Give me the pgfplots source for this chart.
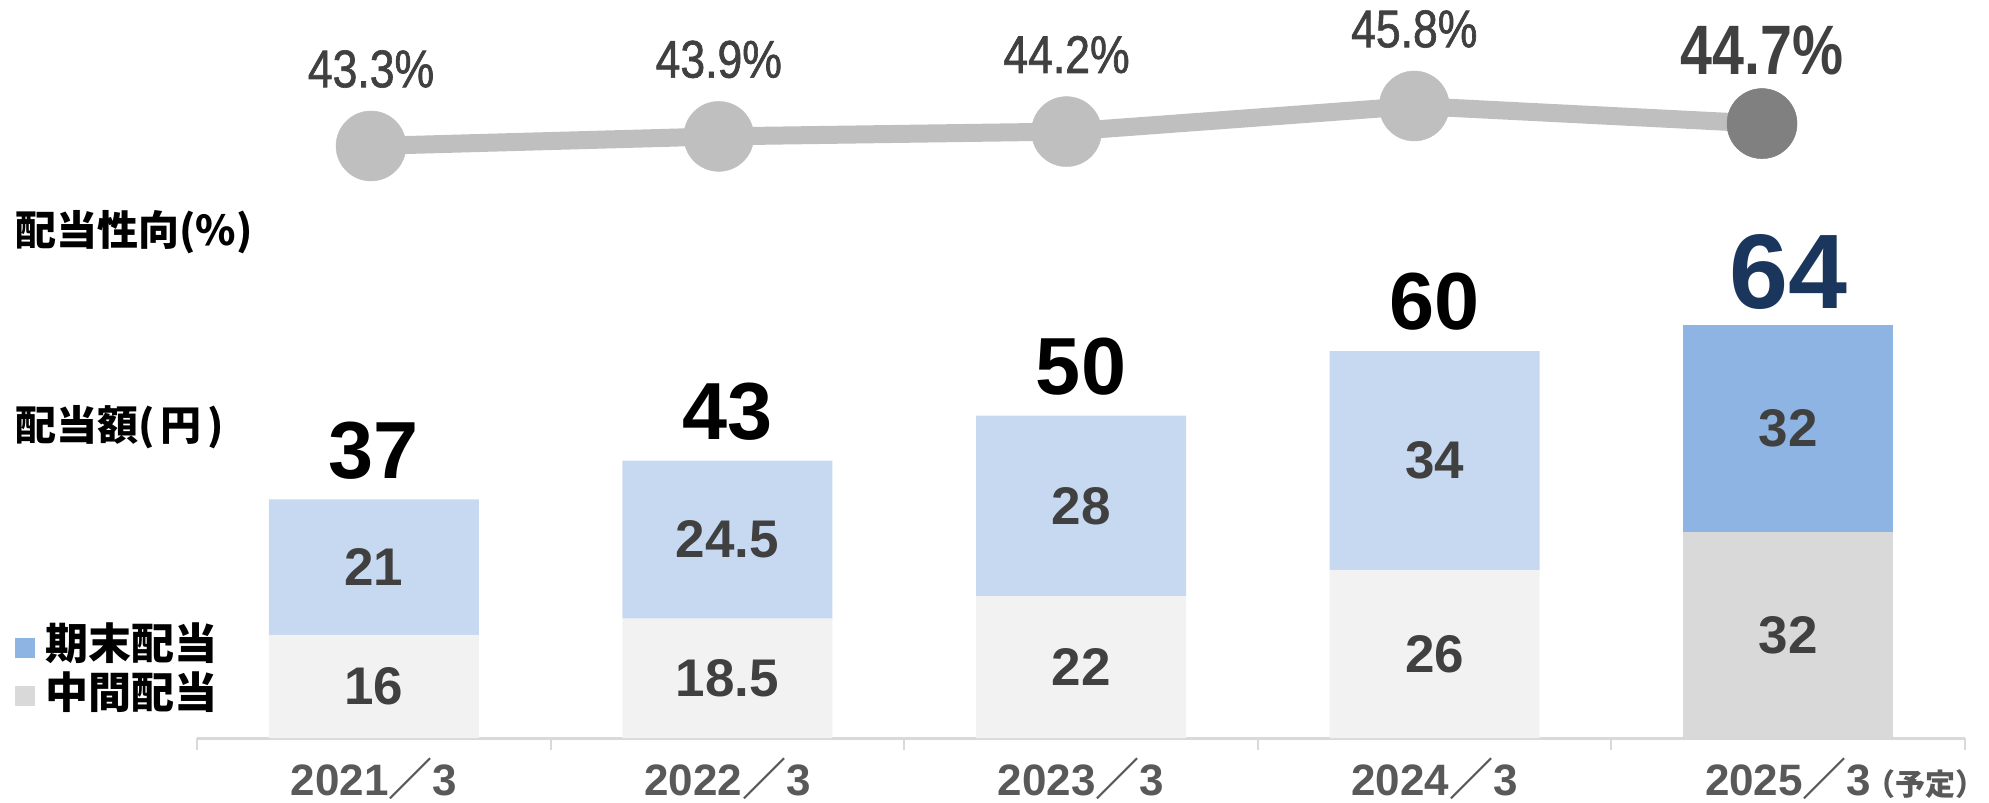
\documentclass[border=0pt]{standalone}
\usepackage{pgfplots}
\pgfplotsset{compat=1.18}
\usepackage{fontspec}
\setmainfont{Liberation Sans}
\newfontfamily\cjk{Noto Sans CJK JP}
\newfontfamily\narrow{Liberation Sans}[FakeStretch=0.84, FakeBold=1.2]
\newfontfamily\narrowb{Liberation Sans Bold}[FakeStretch=0.82]
\definecolor{kimatsu}{HTML}{C6D9F1}
\definecolor{kimatsuD}{HTML}{8EB4E3}
\definecolor{chukan}{HTML}{F2F2F2}
\definecolor{chukanD}{HTML}{D9D9D9}
\definecolor{linegray}{HTML}{BFBFBF}
\definecolor{markdark}{HTML}{808080}
\definecolor{txt}{HTML}{404040}
\definecolor{ticktxt}{HTML}{595959}
\definecolor{navy}{HTML}{1B365D}
\begin{document}
\begin{tikzpicture}
\path[use as bounding box] (0,0) rectangle (994.5bp,401.5bp);
\pgfplotsset{
  basebox/.style={at={(98.5bp,32.5bp)}, anchor=south west, scale only axis,
    width=884bp, height=360bp, clip=false},
}
% ---- stacked bars ----
\begin{axis}[basebox, xmin=-0.5, xmax=4.5, ymin=0, ymax=111.63,
  ybar stacked, bar width=105bp,
  axis x line*=bottom, axis y line=none,
  axis line style={draw=chukanD, line width=1.5bp},
  xtick={0,1,2,3,4},
  xticklabels={{2021{\cjk ／}3},{2022{\cjk ／}3},{2023{\cjk ／}3},{2024{\cjk ／}3},{2025{\cjk ／}3\rlap{\kern-3bp\cjk\fontsize{15bp}{18bp}\selectfont（予定）}}},
  major tick length=0pt,
  minor xtick={-0.5,0.5,1.5,2.5,3.5,4.5}, minor tick length=6bp, tick align=outside,
  minor tick style={draw=chukanD, line width=1bp},
  xticklabel style={anchor=base, yshift=-28.5bp, text=ticktxt, text depth=0pt,
    font=\bfseries\fontsize{22bp}{24bp}\selectfont},
  reverse legend,
  legend cell align=left,
  legend style={at={(axis description cs:-0.1029,0.1533)}, anchor=north west,
    draw=none, fill=none, inner sep=0pt, outer sep=0pt, row sep=0pt, column sep=5bp,
    font=\cjk\bfseries\fontsize{21.5bp}{24bp}\selectfont,
    nodes={inner sep=0pt, text height=16bp, text depth=8.25bp}},
  legend image code/.code={\fill[#1,draw=none] (0bp,-3bp) rectangle (10bp,7bp);},
]
\addplot[fill=chukan, draw=none, forget plot] coordinates {(0,16) (1,18.5) (2,22) (3,26) (4,0)};
\addplot[fill=chukanD, draw=none] coordinates {(0,0) (1,0) (2,0) (3,0) (4,32)};
\addlegendentry{中間配当}
\addplot[fill=kimatsu, draw=none, forget plot] coordinates {(0,21) (1,24.5) (2,28) (3,34) (4,0)};
\addplot[fill=kimatsuD, draw=none] coordinates {(0,0) (1,0) (2,0) (3,0) (4,32)};
\addlegendentry{期末配当}
\end{axis}
% ---- labels inside bars and totals ----
\begin{axis}[basebox, xmin=-0.5, xmax=4.5, ymin=0, ymax=111.63, hide axis,
  point meta=explicit symbolic]
\addplot[draw=none, nodes near coords,
  every node near coord/.append style={anchor=center, inner sep=0pt, text=txt,
    font=\bfseries\fontsize{26.5bp}{30bp}\selectfont}]
  coordinates {(0,8)[16] (1,9.25)[18.5] (2,11)[22] (3,13)[26] (4,16)[32]
               (0,26.5)[21] (1,30.75)[24.5] (2,36)[28] (3,43)[34] (4,48)[32]};
\addplot[draw=none, nodes near coords,
  every node near coord/.append style={anchor=base, inner sep=0pt, yshift=10.5bp, text=black,
    font=\bfseries\fontsize{40.5bp}{44bp}\selectfont}]
  coordinates {(0,37)[37] (1,43)[43] (2,50)[50] (3,60)[60]};
\addplot[draw=none, nodes near coords,
  every node near coord/.append style={anchor=base, inner sep=0pt, yshift=8.5bp, text=navy,
    font=\bfseries\fontsize{53bp}{56bp}\selectfont}]
  coordinates {(4,64)[64]};
\end{axis}
% ---- payout ratio line ----
\begin{axis}[basebox, xmin=-0.5004, xmax=4.5838, ymin=6.3, ymax=51.3, hide axis]
\addplot[linegray, line width=9bp, mark=*, mark size=17.5bp,
  mark options={solid, fill=linegray, draw=linegray, line width=0.2pt}]
  coordinates {(0,43.3) (1,43.9) (2,44.2) (3,45.8) (4,44.7)};
\addplot[markdark, only marks, mark=*, mark size=17.5bp,
  mark options={solid, fill=markdark, draw=markdark, line width=0.2pt}]
  coordinates {(4,44.7)};
\addplot[draw=none, point meta=explicit symbolic, nodes near coords,
  every node near coord/.append style={anchor=center, inner sep=0pt, yshift=38.5bp, text=txt,
    font=\narrow\fontsize{26.5bp}{30bp}\selectfont}]
  coordinates {(0,43.3)[43.3\%] (1,43.9)[43.9\%] (2,44.2)[44.2\%] (3,45.8)[45.8\%]};
\addplot[draw=none, point meta=explicit symbolic, nodes near coords,
  every node near coord/.append style={anchor=center, inner sep=0pt, yshift=36.5bp, text=txt,
    font=\narrowb\fontsize{35bp}{38bp}\selectfont}]
  coordinates {(4,44.7)[44.7\%]};
\end{axis}
% ---- side captions ----
\node[anchor=west, inner sep=0pt, font=\cjk\bfseries\fontsize{20.5bp}{24bp}\selectfont]
  at (7.5bp,285.5bp) {配当性向(\%)};
\node[anchor=west, inner sep=0pt, font=\cjk\bfseries\fontsize{20.5bp}{24bp}\selectfont]
  at (7.5bp,188bp) {配当額(\kern3bp 円\kern3bp)};
\end{tikzpicture}
\end{document}
